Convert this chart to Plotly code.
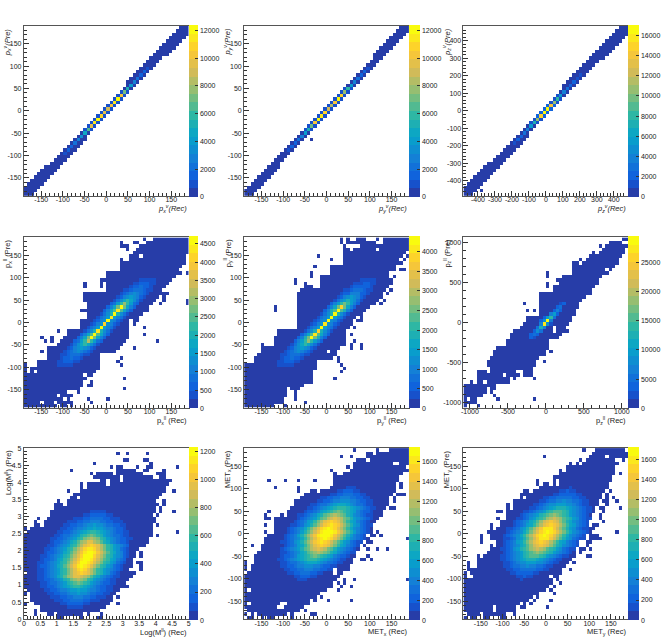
import math

import plotly.graph_objects as go

# %%
# 3x3 grid of ROOT-style COLZ histograms, Pre vs Rec, 50x50 bins each.
# Each panel: EXT = filled bins at the lowest colour level, one string per row
# (top row first, comma list of columns / column ranges).
# CORE = (row, first column, level string) painted on top, levels 0..19 as "0-9a-j".
LEVELS = "0123456789abcdefghij"
NB = 50

P1_EXT = ["47-49", "46-49", "45-49", "44-48", "43-47", "42-46", "41-45", "40-44", "39-43", "38-41",
          "37-40", "36-39", "35-38", "34-37", "33-36", "32-35", "31-34", "31-33", "30-32", "29-31",
          "28-30", "27-29", "26-28", "25-27", "24-26", "23-25", "22-24", "21-23", "20-22", "19-21",
          "18-20", "17-19", "16-18", "15-18", "14-17", "13-16", "12-15", "11-14", "10-13", "9-12",
          "8-11", "6-10", "5-9", "4-8", "3-7", "2-6", "1-5", "0-4", "0-3", "0-2"]
P1_CORE = [(12, 37, "1"), (13, 36, "2"), (14, 35, "2"), (15, 34, "3"), (16, 33, "4"), (17, 32, "6"),
           (18, 31, "8"), (19, 29, "1b1"), (20, 28, "1g1"), (21, 27, "1j1"), (22, 26, "1i1"),
           (23, 25, "1g1"), (24, 24, "1e1"), (25, 23, "1f1"), (26, 22, "1h1"), (27, 21, "1j1"),
           (28, 20, "1i1"), (29, 19, "1f1"), (30, 18, "1a1"), (31, 18, "7"), (32, 17, "5"),
           (33, 16, "4"), (34, 15, "3"), (35, 14, "2"), (36, 13, "2"), (37, 12, "1")]

P2_EXT = ["47-49", "46-49", "45-48", "44-47", "43-46", "42-45", "41-44", "40-43", "39-42", "39-41",
          "38-40", "37-39", "36-38", "35-37", "34-36", "33-35", "32-34", "31-33", "30-32", "29-31",
          "28-30", "27-29", "26-28", "25-27", "24-26", "23-25", "22-24", "21-23", "20-22", "19-21",
          "18-20", "17-19", "16-18", "15-17,20", "14-16", "13-15", "12-14", "11-13", "10-12", "9-11",
          "8-10", "7-10", "6-9", "5-8", "4-7", "3-6", "2-5", "1-4", "0-3", "0-2"]
P2_CORE = [(12, 37, "1"), (13, 36, "2"), (14, 35, "2"), (15, 34, "3"), (16, 33, "4"), (17, 32, "6"),
           (18, 30, "191"), (19, 29, "1c1"), (20, 28, "1h1"), (21, 27, "1j1"), (22, 26, "1g1"),
           (23, 25, "1d1"), (24, 24, "1e1"), (25, 23, "1h1"), (26, 22, "1i1"), (27, 21, "1j1"),
           (28, 20, "1g1"), (29, 19, "1b1"), (30, 18, "181"), (31, 18, "6"), (32, 17, "4"),
           (33, 16, "3"), (34, 15, "2"), (35, 14, "2"), (36, 13, "1")]

P3_EXT = ["47-49", "46-49", "45-49", "44-48", "43-47", "42-46", "41-45", "40-44", "39-43", "38-42",
          "37-40", "36-39", "35-38", "34-37", "33-36", "32-35", "31-34", "30-33", "30-32", "29-31",
          "28-30", "27-29", "26-28", "25-27", "24-26", "23-25", "22-24", "21-23", "20-22", "19-21",
          "18-20", "17-19", "16-19", "15-18", "14-17", "13-16", "12-15", "11-14", "10-13", "9-12",
          "7-11", "6-10", "5-9", "4-8", "3-7", "2-6", "1-5", "0-4", "0-3,5", "0-2"]
P3_CORE = [(14, 35, "1"), (15, 34, "1"), (16, 33, "2"), (17, 32, "2"), (18, 31, "3"), (19, 30, "4"),
           (20, 28, "16"), (21, 27, "191"), (22, 26, "1c1"), (23, 25, "2g2"), (24, 24, "2j2"),
           (25, 23, "2j2"), (26, 22, "2h2"), (27, 21, "1c1"), (28, 20, "181"), (29, 20, "6"),
           (30, 19, "4"), (31, 18, "3"), (32, 17, "2"), (33, 16, "2"), (34, 15, "1")]

P4_EXT = ["36,39-49", "29,33-34,37-49", "29-31,35-49", "31,34-49", "33-49",
          "32-34,36-48", "29,32-48", "29-48", "29-47", "29-46",
          "25-47,49", "25-45", "23-44", "18,23,25-43", "18,23,25-42",
          "25-41", "18-43", "18-40,42", "18-39,42,49", "19-38,41,49",
          "19-37", "17-37", "19-35", "19-34", "17-31,33-34",
          "17-31,33", "17-31,36", "10,13-31", "13-31,36", "5,8,12-31",
          "6,8,11-30,40", "10-29", "7-28,33", "5,7-27", "7-22",
          "7-22,29", "4-22,28", "0,4-22,29", "0,2-22", "0,2,4-21",
          "0-17,19-20", "0-18,30", "0-17,20", "0-17,19-20", "0-16,30",
          "0-12,16", "0-9,11-14", "0-11,13,19,25", "0-4,6-8,10-14,20", "0-9,11-12,14"]
P4_CORE = [(12, 33, "001111100"), (13, 32, "011222110"), (14, 31, "012232210"), (15, 30, "112333211"),
           (16, 29, "123454321"), (17, 28, "124565421"), (18, 27, "135797531"), (19, 26, "2369c9632"),
           (20, 25, "247bjb742"), (21, 24, "247aia742"), (22, 23, "1358j8531"), (23, 22, "1346i6431"),
           (24, 21, "1245j5421"), (25, 20, "1245h5421"), (26, 19, "1346j6431"), (27, 18, "1358i8531"),
           (28, 17, "247aja742"), (29, 16, "247bjb742"), (30, 15, "2369d9632"), (31, 14, "135797531"),
           (32, 13, "124565421"), (33, 12, "123454321"), (34, 11, "112333211"), (35, 10, "012232210"),
           (36, 9, "011222110"), (37, 8, "001111100")]

P5_EXT = ["29,31,34-36,40,42-49", "29,31-39,42-49", "30,35-49", "30-31,33-39,41-49", "30-48",
          "22,30-47,49", "26,30-46,48", "30-47", "21,26-45", "26-45,47-48",
          "20,26-43", "20,23-43,45", "15,23-44", "15,18,23-44", "18-20,23-43",
          "17-42,44", "16-41,43", "16-41", "16-40,42", "16-39,41",
          "9,16-37", "9,16-36", "16-35", "16-33,35", "16-32,34-35",
          "16-32", "16-31,33", "10-30", "10-30,32", "9-30",
          "9-30,33", "5,9-30,32,35", "5-28,32,35", "5-24,26-27", "4-27",
          "3-26,28", "3-21,28", "0-21,29", "0-21,30", "0-20,29",
          "0-20", "0-20,27", "0-20", "0-17", "0-12,14-16",
          "0-12,15", "0-12,15", "0-11,15", "0-11,18", "0-8,12"]
P5_CORE = [(12, 33, "001111100"), (13, 32, "011122110"), (14, 31, "012222210"), (15, 30, "112333211"),
           (16, 29, "122444221"), (17, 28, "124565421"), (18, 27, "135686531"), (19, 26, "2469b9642"),
           (20, 25, "247bhb742"), (21, 24, "248aja842"), (22, 23, "1358j8531"), (23, 22, "1346j6431"),
           (24, 21, "1245j5421"), (25, 20, "1245i5421"), (26, 19, "1346j6431"), (27, 18, "1358h8531"),
           (28, 17, "247aia742"), (29, 16, "248bjb842"), (30, 15, "2469c9642"), (31, 14, "135797531"),
           (32, 13, "124565421"), (33, 12, "123454321"), (34, 11, "112333211"), (35, 10, "012232210"),
           (36, 9, "011222110"), (37, 8, "001111100")]

P6_EXT = ["48-49", "44-47", "41,43-49", "42-48", "39,41-48",
          "38-47", "35,37-46", "33-34,36-46", "33-45", "33-42,44",
          "25,33-43", "25,30-41", "28-40", "25,29-40", "25,27-39",
          "27-38", "23-38", "23-36", "23-35", "18,23-34",
          "23-34", "19,21,23-33", "23-33", "19-32", "19-32",
          "18-31", "17-26,28-30", "15-26,28-31", "14-29", "14-28",
          "13-25", "13-25", "10-25", "9-24,26", "9-24",
          "8-22", "7-21,24", "7-21", "8-20", "4-6,8-15,18-20",
          "4-11,13-16,18-20", "4-13,15,21", "2,4-5,7-13", "0-9", "0-6,8-9",
          "0-6,8", "0-5,9", "0,2-3,10,21", "0-3", "0,4"]
P6_CORE = [(19, 29, "12"), (20, 28, "23"), (21, 27, "242"), (22, 26, "462"), (23, 24, "2693"),
           (24, 23, "25j4"), (25, 23, "4i51"), (26, 22, "384"), (27, 21, "253"), (28, 20, "232"),
           (29, 20, "21")]

P7_EXT = ["", "28,31,37", "", "30-31,36-37", "21,38",
          "26,28-29,34,37-38,46", "14,28-33,36-37,42", "20,22-26,28-35,40-42", "21-28,30-38,41-42",
          "23-24,26-28,30-44",
          "17,19-24,26-43", "17,19-42", "13,17-42,45", "15-41", "14-15,17-40",
          "10,13-39,42", "9-11,13-40,42", "9-39,41", "8-39,41,45", "8-38,40",
          "4,7-39", "3,6-39", "3-4,6-38,40", "0,2-38", "1-38,46",
          "0-38,40", "0-37", "0-37", "0-36", "0-34",
          "0-33,35", "0-33,35", "0-32", "0-32,34-35", "0-32,35",
          "0-31,35", "1-33", "0-32", "0-31", "0-30",
          "0-31", "1-28", "0,2-27", "2-26,28", "2-26",
          "0,3-25,28", "5-24", "3,5-22", "3,7-8,10-17,19,23", "10-11,17,22-23"]
P7_CORE = [(18, 20, "11111"), (19, 18, "112222211"), (20, 15, "11122333322111"),
           (21, 13, "11122334443322111"), (22, 12, "1122334556554332211"),
           (23, 11, "11223445667665443221"), (24, 10, "1122345678998765432211"),
           (25, 9, "1123345689aba9865433211"), (26, 8, "1122345689bcdcb9865432211"),
           (27, 8, "12234578acdffdca87543221"), (28, 7, "112345689bdfghgfdb9865432"),
           (29, 6, "112345689bdfhiihfdb9865321"), (30, 6, "12234578acegijjigeca875421"),
           (31, 5, "112345689bdfhjjjhfdb9865421"), (32, 5, "12234679acegijjigeca976432"),
           (33, 4, "112345689bdfhjjihfdb9865321"), (34, 4, "12234578acegijihfdb9865321"),
           (35, 4, "112345689bdfhihfdb98654321"), (36, 4, "112345689bdfghgfdb9865321"),
           (37, 4, "11234578acdffedca87543211"), (38, 4, "1122345689bcdcb986543211"),
           (39, 5, "1123345689aba9865432211"), (40, 5, "1122345678998765432211"),
           (41, 6, "112234456676654432211"), (42, 7, "1122334556554332211"),
           (43, 8, "11122334443322111"), (44, 9, "11122333322111"), (45, 11, "112222211"),
           (46, 13, "11111")]

P8_EXT = ["33,40,44-49", "37-38,40-49", "29,32,37-49", "34-36,38-49", "33-44,47-49",
          "31,33-48", "26,32-49", "27,30-47", "27-46", "7,12,16,21,27-46",
          "27-45,47", "9,16,26-45,47", "16,20-21,23-45", "18-44,46-48", "17-43,45",
          "15-43,45", "15-43", "14-42,44-45", "7,13-41", "6,11,13-41",
          "6-7,9-40", "9-39", "6,9-38", "9-38", "6,9-38,40",
          "7-36,38-39,41", "6-37,49", "6-35,37-38", "2,5-34,36", "5-34,37,40,43",
          "4-33", "3-33,37", "3-32,35-36,38", "0,3-32", "0,2-31",
          "0,2-26,28-31", "1-26,28-29", "0-28", "0-27,30,33,49", "0-26,28,30",
          "0-26,29,32", "0,2-24,28", "0-22", "0-21,23", "0-19,21,25,32",
          "0,2-10,13-19", "0-9,12-17", "1-16,18", "0,2,4-12,14,20-21", "1-2,5,7-8,14"]
P8_CORE = [(11, 31, "111"), (12, 28, "1122211"), (13, 26, "11223332211"), (14, 23, "112233444332211"),
           (15, 22, "11223445554432211"), (16, 20, "1123345677765433211"),
           (17, 19, "112345678999876543211"), (18, 18, "122346789aba987643221"),
           (19, 16, "11234578abcdcba87543211"), (20, 16, "1234568abdefedba8654321"),
           (21, 15, "1234679bdfghgfdb9764321"), (22, 14, "1123568aceghihgeca8653211"),
           (23, 13, "1234579bdfhijihfdb9754321"), (24, 13, "123468acegijjjigeca864321"),
           (25, 12, "123468acegijjjigeca864321"), (26, 12, "1234579bdfhijihfdb9754321"),
           (27, 11, "1123568aceghihgeca8653211"), (28, 12, "1234679bdfghgfdb9764321"),
           (29, 11, "1234568abdefedba8654321"), (30, 11, "11234578abcdcba87543211"),
           (31, 11, "122346789aba987643221"), (32, 10, "112345678999876543211"),
           (33, 11, "1123345677765433211"), (34, 11, "11223445554432211"),
           (35, 12, "112233444332211"), (36, 13, "11223332211"), (37, 15, "1122211"), (38, 16, "111")]

P9_EXT = ["36,40-48", "39-49", "24,38-42,44-49", "35,37-45,48", "32,34,36-46",
          "31-45", "29,31-45", "29-45,47", "27-44", "22,27,29-44",
          "22,24-25,27,29-43", "23-43", "18-19,21-42,44", "17-41,43", "17,19-41,43,45",
          "15-40,42-43,46", "13,15-40,43", "13,15-39,41-42,47", "10-11,13-39,42", "13-38,41",
          "10,13-38,41", "11-37,42", "8,11-37,39-40", "8,10-36,38-39", "7-36,38,46",
          "5,8-35,38-40", "5,8-35,38-41", "5,10-34,37-38", "8,10-34,37", "8-33,35-36,38",
          "7-33,35", "4,6-33,37-38", "4-32", "1,4-31,33", "1,4-30",
          "1-29,32", "0,2-29", "0,3-25,27-28", "0-26,28", "0-26,29",
          "0-25,27", "0-24,26", "0-22,27", "0-20,22", "0-19,21,26",
          "0-16,18,20", "0-8,10-15,17-18,25", "0-8,10-15", "1-4,6-12,15", "0,2-3,6-7,11-12"]
P9_CORE = [(11, 32, "1"), (12, 29, "11211"), (13, 27, "112222211"), (14, 24, "1122333332211"),
           (15, 23, "112334454433211"), (16, 21, "11234556665543211"),
           (17, 20, "1123456788876543211"), (18, 18, "112345689aaa986543211"),
           (19, 17, "12345689abcba98654321"), (20, 16, "11235689acdedca98653211"),
           (21, 15, "1234578acefgfeca8754321"), (22, 15, "1234679bdfghgfdb9764321"),
           (23, 13, "1123568acegiiigeca8653211"), (24, 13, "1234579bdfhijihfdb9754321"),
           (25, 12, "1234579bdfhijihfdb9754321"), (26, 12, "1123568acegiiigeca8653211"),
           (27, 12, "1234679bdfghgfdb9764321"), (28, 12, "1234578acefgfeca8754321"),
           (29, 11, "11235689acdedca98653211"), (30, 12, "12345689abcba98654321"),
           (31, 11, "112345689aaa986543211"), (32, 11, "1123456788876543211"),
           (33, 12, "11234556665543211"), (34, 12, "112334454433211"),
           (35, 13, "1122333332211"), (36, 14, "112222211"), (37, 16, "11211"), (38, 17, "1")]

# histogram maxima (top of the palette axis) and palette label step
Z_MAX = [12400, 12400, 17050, 4700, 4390, 29400, 1230, 1745, 1720]
CB_STEP = [2000, 2000, 2000, 500, 500, 5000, 200, 200, 200]

X_RANGE = [(-190, 190), (-190, 190), (-485, 485), (-190, 190), (-190, 190), (-1085, 1085),
           (0, 5), (-190, 190), (-190, 190)]
Y_RANGE = [(-190, 190), (-190, 190), (-485, 485), (-190, 190), (-190, 190), (-1065, 1065),
           (0, 5), (-190, 190), (-190, 190)]

TICK_150 = [-150, -100, -50, 0, 50, 100, 150]
TICK_150_TXT = ["-150", "-100", "-50", "0", "50", "100", "150"]
TICK_400 = [-400, -300, -200, -100, 0, 100, 200, 300, 400]
TICK_400_TXT = ["-400", "-300", "-200", "-100", "0", "100", "200", "300", "400"]
TICK_1000 = [-1000, -500, 0, 500, 1000]
TICK_1000_TXT = ["-1000", "-500", "0", "500", "1000"]
TICK_LOG = [0, 0.5, 1, 1.5, 2, 2.5, 3, 3.5, 4, 4.5, 5]
TICK_LOG_TXT = ["0", "0.5", "1", "1.5", "2", "2.5", "3", "3.5", "4", "4.5", "5"]

X_TITLES = ["<i>p<sub>x</sub><sup>ν</sup>(Rec)</i>", "<i>p<sub>y</sub><sup>ν</sup>(Rec)</i>",
            "<i>p<sub>z</sub><sup>ν</sup>(Rec)</i>",
            "p<sub>x</sub><sup>ll</sup> (Rec)", "p<sub>y</sub><sup>ll</sup> (Rec)",
            "p<sub>z</sub><sup>ll</sup> (Rec)",
            "Log(M<sup>ll</sup>) (Rec)", "MET<sub>x</sub> (Rec)", "MET<sub>y</sub> (Rec)"]
Y_TITLES = ["<i>p<sub>x</sub><sup>ν</sup>(Pre)</i>", "<i>p<sub>y</sub><sup>ν</sup>(Pre)</i>",
            "<i>p<sub>z</sub><sup>ν</sup>(Pre)</i>",
            "p<sub>x</sub><sup>ll</sup> (Pre)", "p<sub>y</sub><sup>ll</sup> (Pre)",
            "p<sub>z</sub><sup>ll</sup> (Pre)",
            "Log(M<sup>ll</sup>) (Pre)", "MET<sub>x</sub> (Pre)", "MET<sub>y</sub> (Pre)"]

EXTS = [P1_EXT, P2_EXT, P3_EXT, P4_EXT, P5_EXT, P6_EXT, P7_EXT, P8_EXT, P9_EXT]
CORES = [P1_CORE, P2_CORE, P3_CORE, P4_CORE, P5_CORE, P6_CORE, P7_CORE, P8_CORE, P9_CORE]
TICKS = [(TICK_150, TICK_150_TXT)] * 2 + [(TICK_400, TICK_400_TXT)] + [(TICK_150, TICK_150_TXT)] * 2 \
    + [(TICK_1000, TICK_1000_TXT)] + [(TICK_LOG, TICK_LOG_TXT)] + [(TICK_150, TICK_150_TXT)] * 2
MINOR = [(10, 50), (10, 50), (20, 100), (10, 50), (10, 50), (100, 500), (0.1, 0.5), (10, 50), (10, 50)]

# %%
# layout in pixels
W, H = 664, 642
COL_X = [(22, 188), (244, 410), (465, 631)]
ROW_Y = [(22, 194), (236, 408), (449, 622)]
CB_W = [9, 11, 11]
FONT = "Liberation Sans, Arial, sans-serif"

# ROOT kBird palette, drawn with 20 contour levels
BIRD_STOPS = [0.0, 0.125, 0.25, 0.375, 0.5, 0.625, 0.75, 0.875, 1.0]
BIRD_R = [0.2082, 0.0592, 0.0780, 0.0232, 0.1802, 0.5301, 0.8186, 0.9956, 0.9764]
BIRD_G = [0.1664, 0.3599, 0.5041, 0.6419, 0.7178, 0.7492, 0.7328, 0.7862, 0.9832]
BIRD_B = [0.5293, 0.8684, 0.8385, 0.7914, 0.6425, 0.4662, 0.3499, 0.1968, 0.0539]


def bird(f):
    for i in range(len(BIRD_STOPS) - 1):
        if f <= BIRD_STOPS[i + 1]:
            t = (f - BIRD_STOPS[i]) / (BIRD_STOPS[i + 1] - BIRD_STOPS[i])
            rgb = [ch[i] + (ch[i + 1] - ch[i]) * t for ch in (BIRD_R, BIRD_G, BIRD_B)]
            return "rgb(%d,%d,%d)" % tuple(round(v * 255) for v in rgb)
    return "rgb(249,251,14)"


NCONT = 20
colorscale = []
for i in range(NCONT):
    col = bird(int((i + 0.99) * 255 / NCONT) / 254)
    colorscale.append([i / NCONT, col])
    colorscale.append([(i + 1) / NCONT, col])


def build_z(ext, core, zmax):
    grid = [[None] * NB for _ in range(NB)]
    for r, spec in enumerate(ext):
        for part in spec.split(","):
            if not part:
                continue
            a, _, b = part.partition("-")
            for c in range(int(a), int(b or a) + 1):
                grid[r][c] = 0
    for r, c0, s in core:
        for k, ch in enumerate(s):
            if ch != ".":
                grid[r][c0 + k] = LEVELS.index(ch)
    # rows were listed top first; heatmap wants bottom row first
    return [[None if v is None else (v + 0.5) / NCONT * zmax for v in grid[r]]
            for r in range(NB - 1, -1, -1)]


def centers(lo, hi):
    w = (hi - lo) / NB
    return [lo + w * (i + 0.5) for i in range(NB)]


def minor_vals(lo, hi, step, major):
    out = []
    for n in range(int(math.ceil(lo / step - 1e-9)), int(math.floor(hi / step + 1e-9)) + 1):
        v = round(n * step, 6)
        if abs(v / major - round(v / major)) > 1e-6:
            out.append(v)
    return out


fig = go.Figure()
annotations = []
for p in range(9):
    row, col = divmod(p, 3)
    x0, x1 = COL_X[col]
    y0, y1 = ROW_Y[row]
    sfx = "" if p == 0 else str(p + 1)
    tv, tt = TICKS[p]
    mstep, mmaj = MINOR[p]

    fig.add_trace(go.Heatmap(
        z=build_z(EXTS[p], CORES[p], Z_MAX[p]),
        x=centers(*X_RANGE[p]), y=centers(*Y_RANGE[p]),
        colorscale=colorscale, zmin=0, zmax=Z_MAX[p], zsmooth=False,
        hoverongaps=False, hoverinfo="skip",
        xaxis="x" + sfx, yaxis="y" + sfx,
        colorbar=dict(
            x=x1 / W, xanchor="left", xpad=0,
            y=1 - (y0 + y1) / 2 / H, yanchor="middle", ypad=0,
            len=y1 - y0, lenmode="pixels", thickness=CB_W[col], thicknessmode="pixels",
            outlinewidth=0, ticks="inside", ticklen=3, tickwidth=0.8, tickcolor="#333",
            tickmode="linear", tick0=0, dtick=CB_STEP[p], tickformat="d",
            tickfont=dict(family=FONT, size=7, color="#222"),
        ),
    ))

    common = dict(showline=True, linecolor="#555", linewidth=1, mirror=True,
                  ticks="inside", ticklen=5, tickwidth=0.8, tickcolor="#333",
                  showgrid=False, zeroline=False, fixedrange=True,
                  tickmode="array", tickvals=tv, ticktext=tt,
                  tickfont=dict(family=FONT, size=7, color="#222"))
    fig.layout["xaxis" + sfx] = dict(
        common, domain=[x0 / W, x1 / W], range=list(X_RANGE[p]), anchor="y" + sfx,
        ticklabelstandoff=-3,
        minor=dict(tickvals=minor_vals(*X_RANGE[p], mstep, mmaj), ticks="inside", ticklen=3,
                   tickwidth=0.8, tickcolor="#333", showgrid=False))
    fig.layout["yaxis" + sfx] = dict(
        common, domain=[1 - y1 / H, 1 - y0 / H], range=list(Y_RANGE[p]), anchor="x" + sfx,
        minor=dict(tickvals=minor_vals(*Y_RANGE[p], mstep, mmaj), ticks="inside", ticklen=3,
                   tickwidth=0.8, tickcolor="#333", showgrid=False))

    annotations.append(dict(text=X_TITLES[p], x=x1 / W, y=1 - (y1 + 13) / H,
                            xref="paper", yref="paper", xanchor="right", yanchor="middle",
                            showarrow=False, font=dict(family=FONT, size=7.5, color="#222")))
    annotations.append(dict(text=Y_TITLES[p], x=(x0 - 16.5) / W, y=1 - y0 / H,
                            xref="paper", yref="paper", xanchor="center", yanchor="top",
                            textangle=-90, showarrow=False,
                            font=dict(family=FONT, size=7.5, color="#222")))

fig.update_layout(width=W, height=H, margin=dict(l=0, r=0, t=0, b=0),
                  paper_bgcolor="white", plot_bgcolor="white", showlegend=False,
                  annotations=annotations)

# the page's default 8px body margin would push the figure off the window
fig.write_html("out.html", config={"displayModeBar": False},
               post_script="document.body.style.margin='0px';")
